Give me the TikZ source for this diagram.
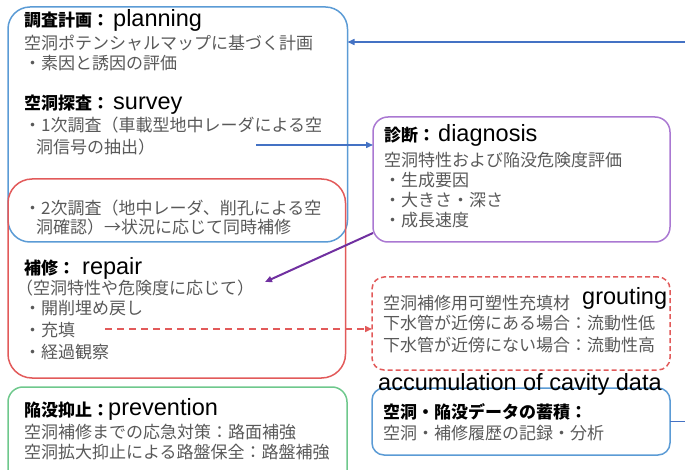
\documentclass[tikz,border=0pt]{standalone}
\usepackage{fontspec}
\setmainfont{Liberation Sans}
\newfontfamily\jp{Noto Sans CJK JP}
\usetikzlibrary{arrows.meta}
\definecolor{cblue}{RGB}{91,155,213}
\definecolor{cblue2}{RGB}{68,114,196}
\definecolor{cred}{RGB}{226,90,90}
\definecolor{cpurp}{RGB}{170,120,210}
\definecolor{cpurp2}{RGB}{112,48,160}
\definecolor{cgreen}{RGB}{110,200,140}
\definecolor{cgray}{RGB}{89,89,89}
\tikzset{
  jtxt/.style={anchor=base west, inner sep=0pt, font=\jp\fontsize{17}{20}\selectfont, text=cgray},
  jhead/.style={anchor=base west, inner sep=0pt, font=\jp\bfseries\fontsize{17}{20}\selectfont, text=black},
  etxt/.style={anchor=base west, inner sep=0pt, font=\fontsize{23.5}{24}\selectfont, text=black},
  frame/.style={line width=1.5pt, anchor=north west, inner sep=0pt, outer sep=0pt},
  barrow/.style={draw=cblue2, line width=1.5pt, -{Triangle[length=7pt,width=6pt]}},
  parrow/.style={draw=cpurp2, line width=2pt, -{Triangle[length=7pt,width=6pt]}},
  rarrow/.style={draw=cred, line width=1.5pt, dash pattern=on 7pt off 5pt, -{Triangle[length=7pt,width=6pt]}},
}
\begin{document}
\begin{tikzpicture}[x=1pt,y=-1pt]
\useasboundingbox (0,0) rectangle (685,470);
% frames
\node[frame, draw=cblue, rounded corners=22pt, minimum width=339.5pt, minimum height=235pt] (plan) at (8,7) {};
\node[frame, draw=cred, rounded corners=24pt, minimum width=337.5pt, minimum height=199pt] (repair) at (8,179) {};
\node[frame, draw=cgreen, rounded corners=15pt, minimum width=339pt, minimum height=100pt] (prev) at (8,387) {};
\node[frame, draw=cpurp, rounded corners=15pt, minimum width=297pt, minimum height=125pt] (diag) at (373,117) {};
\node[frame, draw=cred, dash pattern=on 5pt off 3pt, rounded corners=12pt, minimum width=298pt, minimum height=93pt] (grout) at (372,277) {};
\node[frame, draw=cblue, rounded corners=12pt, minimum width=298pt, minimum height=67pt] (accum) at (372,388) {};
% plan / survey texts
\node[jhead] (h1) at (24,26.5) {調査計画：};
\node[etxt] (e1) at (113,27) {planning};
\node[jtxt] (t1) at (24,49.5) {空洞ポテンシャルマップに基づく計画};
\node[jtxt] (t2) at (24,69.5) {・素因と誘因の評価};
\node[jhead] (h2) at (24,109.5) {空洞探査：};
\node[etxt] (e2) at (113,110) {survey};
\node[jtxt] (t3) at (24,131.5) {・1次調査（車載型地中レーダによる空};
\node[jtxt] (t4) at (36,153.5) {洞信号の抽出）};
% repair texts
\node[jtxt] (t5) at (24,214.5) {・2次調査（地中レーダ、削孔による空};
\node[jtxt] (t6) at (36,233.5) {洞確認）→状況に応じて同時補修};
\node[jhead] (h3) at (24,274.5) {補修：};
\node[etxt] (e3) at (82,275) {repair};
\node[jtxt] (t7) at (16,294.5) {（空洞特性や危険度に応じて）};
\node[jtxt] (t8) at (24,314.5) {・開削埋め戻し};
\node[jtxt] (t9) at (24,336.5) {・充填};
\node[jtxt] (t10) at (24,358.5) {・経過観察};
% prevention texts
\node[jhead] (h4) at (24,416.5) {陥没抑止：};
\node[etxt] (e4) at (108,415) {prevention};
\node[jtxt] (t11) at (24,438.5) {空洞補修までの応急対策：路面補強};
\node[jtxt] (t12) at (24,458.5) {空洞拡大抑止による路盤保全：路盤補強};
% diagnosis texts
\node[jhead] (h5) at (384,141.5) {診断：};
\node[etxt] (e5) at (438,142) {diagnosis};
\node[jtxt] (t13) at (384,166.5) {空洞特性および陥没危険度評価};
\node[jtxt] (t14) at (384,186.5) {・生成要因};
\node[jtxt] (t15) at (384,206.5) {・大きさ・深さ};
\node[jtxt] (t16) at (384,226.5) {・成長速度};
% grouting texts
\node[jtxt] (t17) at (383,309.5) {空洞補修用可塑性充填材};
\node[etxt] (e6) at (582,305) {grouting};
\node[jtxt] (t18) at (383,329.5) {下水管が近傍にある場合：流動性低};
\node[jtxt] (t19) at (383,351.5) {下水管が近傍にない場合：流動性高};
% accumulation texts
\node[etxt] (e7) at (378,390) {accumulation of cavity data};
\node[jhead] (h6) at (383,418.5) {空洞・陥没データの蓄積：};
\node[jtxt] (t20) at (383,439.5) {空洞・補修履歴の記録・分析};
% connectors
\coordinate (topy) at (0,42);
\coordinate (s1) at (256,145);
\coordinate (p2) at (265,282);
\coordinate (f1) at (105,329);
\draw[barrow] (accum.east) -- ++(20,0) |- (plan.east |- topy);
\draw[barrow] (s1) -- (diag.west |- s1);
\draw[parrow] ([yshift=9pt]diag.south west) -- (p2);
\draw[rarrow] (f1) -- (grout.west |- f1);
\end{tikzpicture}
\end{document}
